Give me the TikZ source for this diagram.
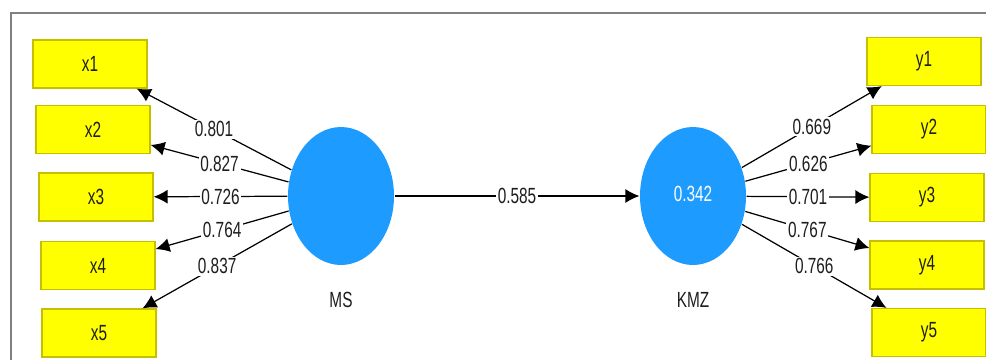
\documentclass[tikz,border=0pt]{standalone}
\usepackage{fontspec}
\setmainfont{Liberation Sans}[FakeStretch=0.7]
\usepackage{tikz}
\usetikzlibrary{shapes, arrows.meta, positioning}
\definecolor{itemfill}{RGB}{255,255,0}
\definecolor{itemdraw}{RGB}{200,190,0}
\definecolor{latent}{RGB}{30,155,255}
\definecolor{ink}{RGB}{30,30,30}
\tikzstyle{item} = [draw=itemdraw, fill=itemfill, rectangle, minimum width=2.28cm, minimum height=0.96cm, inner sep=0pt, text=ink]
\tikzstyle{latentvar} = [fill=latent, ellipse, minimum width=2.12cm, minimum height=2.76cm, text=white, inner sep=0pt]
\tikzstyle{weight} = [fill=white, inner sep=1pt, midway, text=ink]

\begin{document}
\begin{tikzpicture}[x=0.02cm, y=-0.02cm, >={Latex[length=2.8mm,width=2.8mm]}, line width=0.7pt, font=\fontsize{12.5}{14}\selectfont]
  \useasboundingbox (0,0) rectangle (986,360);
  \draw[gray, line width=0.6pt] (11,360) -- (11,13) -- (986,13);
  % latent variables
  \node[latentvar] (MS) at (341,196) {};
  \node[latentvar] (KMZ) at (693,196) {\raisebox{2.5pt}{0.342}};
  \node[text=ink] (MSname) at (341,300) {MS};
  \node[text=ink] (KMZname) at (693,300) {KMZ};
  % indicators
  \node[item] (x1) at (90,64) {x1};
  \node[item] (x2) at (93,129.5) {x2};
  \node[item] (x3) at (96,197) {x3};
  \node[item] (x4) at (98,265.5) {x4};
  \node[item] (x5) at (99,333) {x5};
  \node[item] (y1) at (924,61.5) {y1};
  \node[item] (y2) at (929,129.5) {y2};
  \node[item] (y3) at (927,197.5) {y3};
  \node[item] (y4) at (927,265) {y4};
  \node[item] (y5) at (929,332.5) {y5};
  % loadings
  \draw[->] (MS) -- (x1) node[weight] {0.801};
  \draw[->] (MS) -- (x2) node[weight] {0.827};
  \draw[->] (MS) -- (x3) node[weight] {0.726};
  \draw[->] (MS) -- (x4) node[weight] {0.764};
  \draw[->] (MS) -- (x5) node[weight] {0.837};
  \draw[->] (KMZ) -- (y1) node[weight] {0.669};
  \draw[->] (KMZ) -- (y2) node[weight] {0.626};
  \draw[->] (KMZ) -- (y3) node[weight] {0.701};
  \draw[->] (KMZ) -- (y4) node[weight] {0.767};
  \draw[->] (KMZ) -- (y5) node[weight] {0.766};
  % path
  \draw[->] (MS) -- (KMZ) node[weight] {0.585};
\end{tikzpicture}
\end{document}
